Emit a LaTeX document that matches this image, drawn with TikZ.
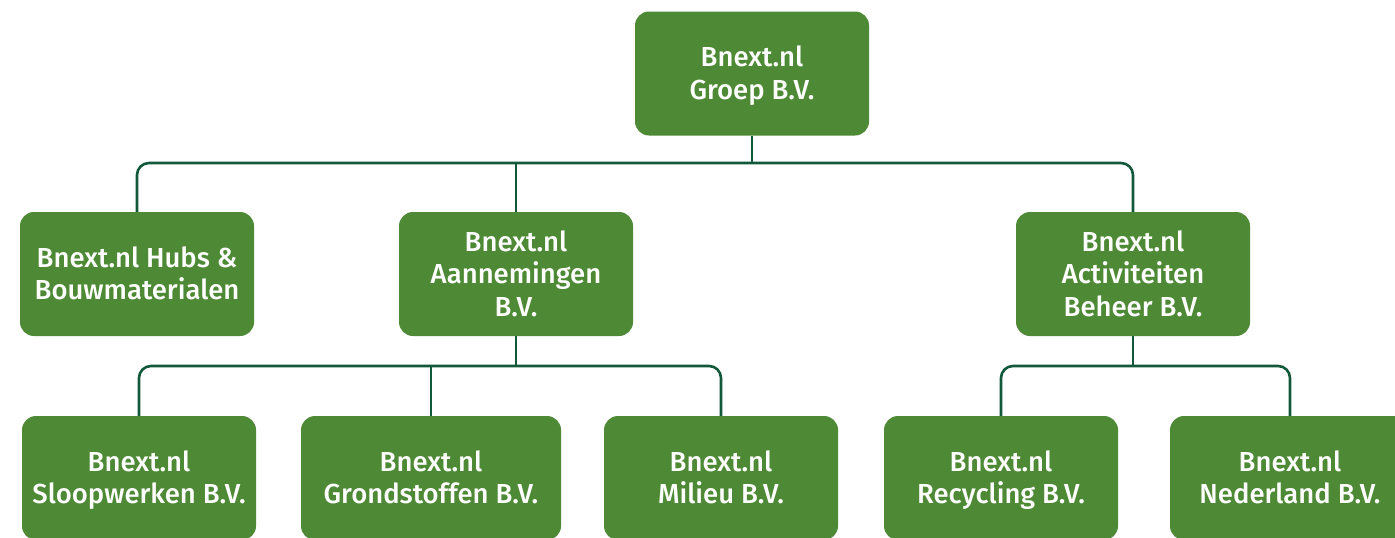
\documentclass[tikz,border=0pt]{standalone}
\usepackage{fontspec}
\setmainfont{Fira Sans}[UprightFont=* Medium]
\definecolor{boxgreen}{HTML}{4E8A35}
\definecolor{linegreen}{HTML}{12583A}
\newcommand{\firststrut}{\rule{0pt}{28.75pt}}
\begin{document}
\begin{tikzpicture}[x=1pt,y=-1pt,
  orgbox/.style={rectangle, rounded corners=14pt, fill=boxgreen, text=white,
    minimum width=234pt, minimum height=124pt, align=center, inner sep=0pt,
    font=\fontsize{27.5}{32.5}\selectfont},
  conn/.style={draw=linegreen, line width=2.6pt, rounded corners=12pt}]
\useasboundingbox (0,0) rectangle (1395,538);
\node[orgbox] (top) at (752,73.5) {\firststrut Bnext.nl\\\strut Groep B.V.};
\node[orgbox] (hubs) at (137,274) {\firststrut Bnext.nl Hubs \&\\\strut Bouwmaterialen};
\node[orgbox] (aan) at (516,274) {\firststrut Bnext.nl\\\strut Aannemingen\\\strut B.V.};
\node[orgbox] (act) at (1133,274) {\firststrut Bnext.nl\\\strut Activiteiten\\\strut Beheer B.V.};
\node[orgbox] (sloop) at (139,478) {\firststrut Bnext.nl\\\strut Sloopwerken B.V.};
\node[orgbox, minimum width=260pt] (gron) at (431,478) {\firststrut Bnext.nl\\\strut Grondstoffen B.V.};
\node[orgbox] (mil) at (721,478) {\firststrut Bnext.nl\\\strut Milieu B.V.};
\node[orgbox] (rec) at (1001,478) {\firststrut Bnext.nl\\\strut Recycling B.V.};
\node[orgbox, minimum width=240pt] (ned) at (1290,478) {\firststrut Bnext.nl\\\strut Nederland B.V.};
\coordinate (bus1) at (752,163);
\coordinate (bus2) at (516,366);
\coordinate (bus3) at (1133,366);
\draw[conn] (hubs.north) |- (bus1) -| (act.north);
\draw[conn] (top.south) -- (bus1);
\draw[conn] (aan.north) -- (aan.north |- bus1);
\draw[conn] (sloop.north) |- (bus2) -| (mil.north);
\draw[conn] (aan.south) -- (bus2);
\draw[conn] (gron.north) -- (gron.north |- bus2);
\draw[conn] (rec.north) |- (bus3) -| (ned.north);
\draw[conn] (act.south) -- (bus3);
\end{tikzpicture}
\end{document}
